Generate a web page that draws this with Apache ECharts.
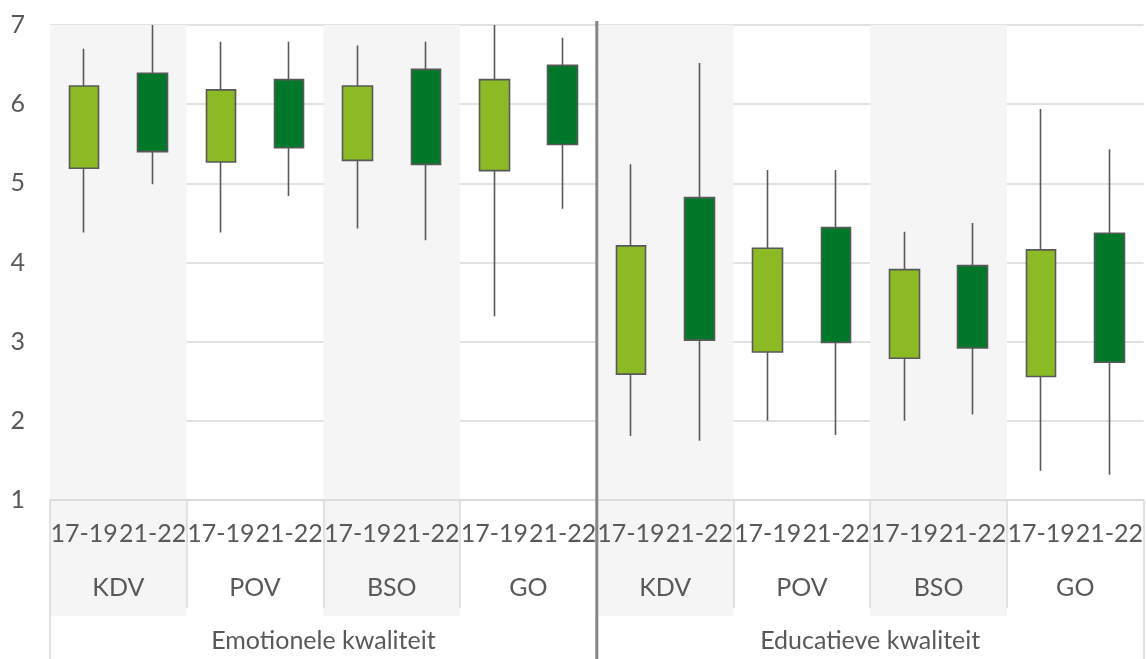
<!DOCTYPE html>
<html>
<head>
<meta charset="utf-8">
<script src="https://cdn.jsdelivr.net/npm/echarts@6/dist/echarts.min.js"></script>
<style>
html, body { margin: 0; padding: 0; background: #fff; }
#boxChart { width: 1146px; height: 659px; }
</style>
</head>
<body>
<div id="boxChart"></div>
<script>
// categorieen
const periods = ["17-19", "21-22"];
const sectors = ["KDV", "POV", "BSO", "GO"];
const qualities = ["Emotionele kwaliteit", "Educatieve kwaliteit"];

// per box, in volgorde van de x-as
const minValues = [4.38, 4.99, 4.38, 4.84, 4.43, 4.28, 3.32, 4.68, 1.81, 1.75, 2.0, 1.82, 2.0, 2.08, 1.37, 1.32];
const q1Values = [5.19, 5.4, 5.27, 5.45, 5.29, 5.24, 5.16, 5.49, 2.59, 3.02, 2.87, 2.99, 2.79, 2.92, 2.56, 2.74];
const q3Values = [6.23, 6.39, 6.18, 6.31, 6.23, 6.44, 6.31, 6.49, 4.21, 4.82, 4.18, 4.44, 3.91, 3.96, 4.16, 4.37];
const maxValues = [6.7, 7.0, 6.79, 6.79, 6.74, 6.79, 7.0, 6.84, 5.24, 6.52, 5.17, 5.17, 4.39, 4.5, 5.94, 5.43];

const periodColors = ["#8bba25", "#00782a"];
const textColor = "#595959";
const lineColor = "#d9d9d9";
const font = "Lato";

const boxCategories = [];
const sectorCategories = [];
qualities.forEach(() => {
  sectors.forEach((s) => {
    sectorCategories.push(s);
    periods.forEach((p) => boxCategories.push(p));
  });
});

const boxData = q1Values.map((q1, i) => {
  const c = periodColors[i % periods.length];
  return {
    value: [q1, q3Values[i], minValues[i], maxValues[i]],
    itemStyle: { color: c, color0: c },
  };
});

let myChart = echarts.init(document.getElementById("boxChart"));
let option = {
  animation: false,
  grid: { left: 50, right: 0, top: 25, bottom: 159 },
  xAxis: [
    {
      type: "category",
      data: boxCategories,
      axisLine: { lineStyle: { color: lineColor, width: 1.5 } },
      axisTick: { show: false },
      axisLabel: { interval: 0, margin: 21, color: textColor, fontSize: 25, fontFamily: font },
      splitLine: { show: false },
    },
    {
      // sectoren: labels boven de as, streepjes als scheiding tot aan de x-as
      type: "category",
      data: sectorCategories,
      position: "bottom",
      offset: 108,
      axisLine: { show: false },
      axisTick: { show: true, inside: true, interval: 0, length: 108, lineStyle: { color: lineColor, width: 1.5 } },
      axisLabel: { inside: true, interval: 0, margin: 8, color: textColor, fontSize: 25, fontFamily: font },
      splitArea: {
        show: true,
        areaStyle: { color: ["#f5f5f5", "rgba(255,255,255,0)"] },
      },
    },
    {
      type: "category",
      data: qualities,
      position: "bottom",
      offset: 108,
      axisLine: { show: false },
      axisTick: { show: true, length: 51, lineStyle: { color: lineColor, width: 1.5 } },
      axisLabel: { interval: 0, margin: 20, color: textColor, fontSize: 25, fontFamily: font },
    },
  ],
  yAxis: {
    type: "value",
    min: 1,
    max: 7,
    interval: 1,
    axisLine: { show: false },
    axisTick: { show: false },
    axisLabel: { margin: 25, color: textColor, fontSize: 25, fontFamily: font },
    splitLine: { lineStyle: { color: lineColor, width: 1.5 } },
  },
  series: [
    {
      type: "candlestick",
      xAxisIndex: 0,
      barWidth: 30,
      itemStyle: { borderColor: "#595959", borderColor0: "#595959", borderWidth: 1.6 },
      data: boxData,
    },
  ],
};
myChart.setOption(option);

// achtergrondvlakken onder de labels en de scheidingslijn tussen de twee kwaliteiten
const c0 = myChart.convertToPixel({ xAxisIndex: 1 }, 0);
const c1 = myChart.convertToPixel({ xAxisIndex: 1 }, 1);
const band = c1 - c0;
const yBottom = myChart.convertToPixel({ yAxisIndex: 0 }, 1);
const yTop = myChart.convertToPixel({ yAxisIndex: 0 }, 7);
const graphics = [];
sectorCategories.forEach((s, i) => {
  if (i % 2 === 0) {
    graphics.push({
      type: "rect",
      z: -10,
      shape: { x: c0 + band * (i - 0.5), y: yBottom, width: band, height: 116 },
      style: { fill: "#f5f5f5" },
      silent: true,
    });
  }
});
const q0 = myChart.convertToPixel({ xAxisIndex: 2 }, 0);
const q1 = myChart.convertToPixel({ xAxisIndex: 2 }, 1);
const divX = (q0 + q1) / 2;
graphics.push({
  type: "line",
  z: 10,
  shape: { x1: divX, y1: yTop - 4, x2: divX, y2: myChart.getHeight() },
  style: { stroke: "#868686", lineWidth: 3 },
  silent: true,
});
myChart.setOption({ graphic: graphics });
</script>
</body>
</html>
